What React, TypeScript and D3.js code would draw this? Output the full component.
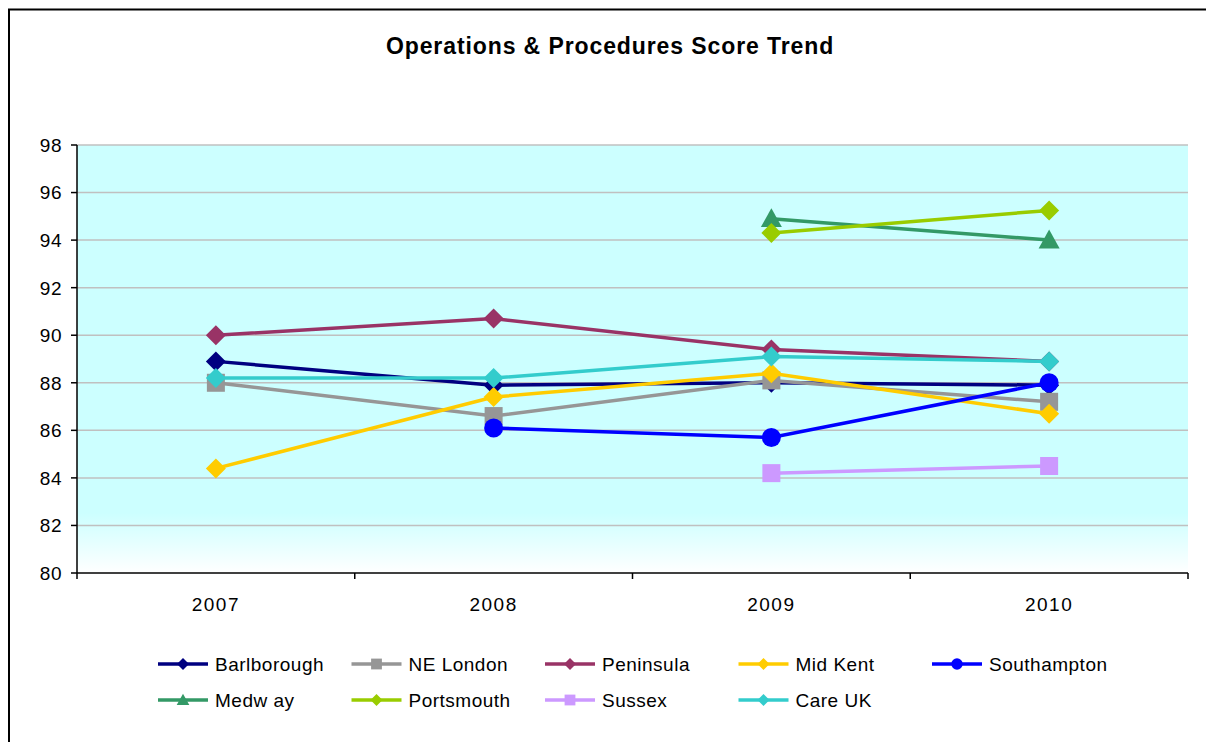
import React from 'react'
import * as d3 from 'd3'

const years = ['2007', '2008', '2009', '2010']
const yTicks = [80, 82, 84, 86, 88, 90, 92, 94, 96, 98]

type Pt = number | null
const names = ['Barlborough', 'NE London', 'Peninsula', 'Mid Kent', 'Southampton', 'Medway', 'Portsmouth', 'Sussex', 'Care UK']
const barlborough: Pt[] = [88.9, 87.9, 88.0, 87.9]
const neLondon: Pt[] = [88.0, 86.6, 88.1, 87.2]
const peninsula: Pt[] = [90.0, 90.7, 89.4, 88.9]
const midKent: Pt[] = [84.4, 87.4, 88.4, 86.7]
const southampton: Pt[] = [null, 86.1, 85.7, 88.0]
const medway: Pt[] = [null, null, 94.9, 94.0]
const portsmouth: Pt[] = [null, null, 94.3, 95.25]
const sussex: Pt[] = [null, null, 84.2, 84.5]
const careUK: Pt[] = [88.2, 88.2, 89.1, 88.9]

const seriesValues = [barlborough, neLondon, peninsula, midKent, southampton, medway, portsmouth, sussex, careUK]
const colors = ['#000080', '#969696', '#993366', '#FFCC00', '#0000FF', '#339966', '#99CC00', '#CC99FF', '#33CCCC']
const markers = ['diamond', 'square', 'diamond', 'diamond', 'circle', 'triangle', 'diamond', 'square', 'diamond']

const W = 1206
const H = 742
const left = 77
const right = 1188
const top = 145
const bottom = 573
const font = 'Liberation Sans, Arial, sans-serif'

function Marker({ kind, x, y, color, s = 1 }: { kind: string; x: number; y: number; color: string; s?: number }) {
  if (kind === 'diamond') {
    const r = 10 * s
    return <path d={`M${x},${y - r}L${x + r},${y}L${x},${y + r}L${x - r},${y}Z`} fill={color} />
  }
  if (kind === 'square') {
    const r = 9 * s
    return <rect x={x - r} y={y - r} width={2 * r} height={2 * r} fill={color} />
  }
  if (kind === 'circle') {
    return <circle cx={x} cy={y} r={9.5 * s} fill={color} />
  }
  const r = 10.5 * s
  return <path d={`M${x},${y - r}L${x + r},${y + r * 0.8}L${x - r},${y + r * 0.8}Z`} fill={color} />
}

export default function App() {
  const x = d3.scaleBand().domain(years).range([left, right])
  const y = d3.scaleLinear().domain([80, 98]).range([bottom, top])
  const cx = (c: string) => (x(c) ?? 0) + x.bandwidth() / 2
  const line = d3
    .line<Pt>()
    .defined((d) => d !== null)
    .x((_, i) => cx(years[i]))
    .y((d) => y(d as number))

  const bounds = [...years.map((c) => x(c) ?? 0), right]

  return (
    <svg width={W} height={H} style={{ position: 'absolute', left: 0, top: 0, background: '#fff' }} fontFamily={font}>
      <defs>
        <linearGradient id="bg" x1="0" y1="0" x2="0" y2="1">
          <stop offset="0" stopColor="#CCFFFF" />
          <stop offset="0.86" stopColor="#CCFFFF" />
          <stop offset="1" stopColor="#FFFFFF" />
        </linearGradient>
      </defs>
      <rect x={9} y={9.5} width={W + 10} height={H + 10} fill="#fff" stroke="#000" strokeWidth={2} />
      <text x={610} y={54} textAnchor="middle" fontSize={23} fontWeight="bold" letterSpacing={0.9}>
        Operations &amp; Procedures Score Trend
      </text>
      <rect x={left} y={top} width={right - left} height={bottom - top} fill="url(#bg)" />
      {yTicks.map((t) => (
        <g key={t}>
          {t > 80 && <line x1={left} x2={right} y1={y(t)} y2={y(t)} stroke="#C0C0C0" strokeWidth={1.5} />}
          <line x1={left - 6} x2={left} y1={y(t)} y2={y(t)} stroke="#000" strokeWidth={1.5} />
          <text x={left - 15} y={y(t)} dy="0.36em" textAnchor="end" fontSize={19} letterSpacing={0.5}>
            {t}
          </text>
        </g>
      ))}
      <line x1={left} x2={left} y1={top} y2={bottom} stroke="#000" strokeWidth={1.5} />
      <line x1={left} x2={right} y1={bottom} y2={bottom} stroke="#000" strokeWidth={1.5} />
      {bounds.map((b, i) => (
        <line key={i} x1={b} x2={b} y1={bottom} y2={bottom + 6} stroke="#000" strokeWidth={1.5} />
      ))}
      {years.map((c) => (
        <text key={c} x={cx(c)} y={611} textAnchor="middle" fontSize={19} letterSpacing={1.5}>
          {c}
        </text>
      ))}
      {seriesValues.map((vals, si) => (
        <g key={names[si]}>
          <path d={line(vals) ?? ''} fill="none" stroke={colors[si]} strokeWidth={3.5} />
          {vals.map((v, i) =>
            v === null ? null : <Marker key={i} kind={markers[si]} x={cx(years[i])} y={y(v)} color={colors[si]} />
          )}
        </g>
      ))}
      {names.map((n, i) => {
        const col = i < 5 ? i : i - 5
        const row = i < 5 ? 0 : 1
        const lx = 158 + col * 193.5
        const ly = 664 + row * 36
        return (
          <g key={n}>
            <line x1={lx} x2={lx + 50} y1={ly} y2={ly} stroke={colors[i]} strokeWidth={3.5} />
            <Marker kind={markers[i]} x={lx + 25} y={ly} color={colors[i]} s={0.6} />
            <text x={lx + 57} y={ly} dy="0.36em" fontSize={19} letterSpacing={0.5}>
              {n === 'Medway' ? 'Medw ay' : n}
            </text>
          </g>
        )
      })}
    </svg>
  )
}
